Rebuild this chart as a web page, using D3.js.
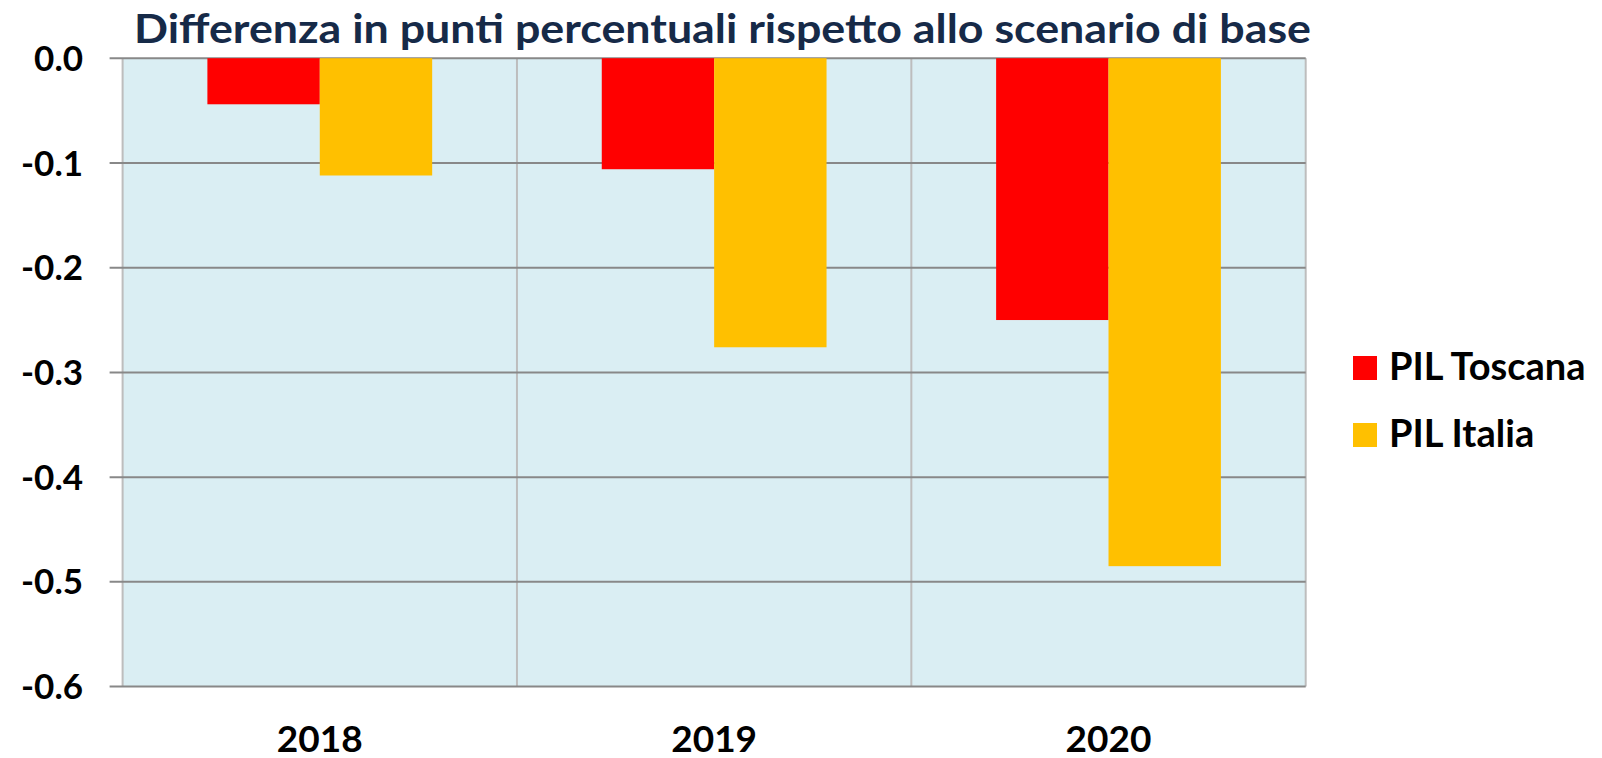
<!DOCTYPE html>
<html>
<head>
<meta charset="utf-8">
<script src="https://cdn.jsdelivr.net/npm/d3@7"></script>
<style>
  body { margin: 0; background: #fff; }
  text { font-family: Lato, 'Open Sans', sans-serif; font-weight: bold; }
</style>
</head>
<body>
<script>
// Data
const years = ['2018', '2019', '2020'];
const seriesNames = ['PIL Toscana', 'PIL Italia'];
const pilToscana = [-0.044, -0.106, -0.25];
const pilItalia = [-0.112, -0.276, -0.485];
const yTicks = [0, -0.1, -0.2, -0.3, -0.4, -0.5, -0.6];
const colors = ['#ff0000', '#ffc000'];
const title = 'Differenza in punti percentuali rispetto allo scenario di base';

// Size and plot area
const w = 1602;
const h = 758;
const plotLeft = 122.6;
const plotRight = 1305.7;
const plotTop = 58.2;
const plotBottom = 686.6;

const svg = d3
  .select('body')
  .append('svg')
  .attr('width', w)
  .attr('height', h);

// Scales
const x = d3.scaleBand().domain(years).range([plotLeft, plotRight]).padding(0);
const x1 = d3
  .scaleBand()
  .domain(seriesNames)
  .range([0, x.bandwidth()])
  .paddingInner(0)
  .paddingOuter(0.7545);
const y = d3.scaleLinear().domain([-0.6, 0]).range([plotBottom, plotTop]);

// Plot background
svg
  .append('rect')
  .attr('x', plotLeft)
  .attr('y', plotTop)
  .attr('width', plotRight - plotLeft)
  .attr('height', plotBottom - plotTop)
  .attr('fill', '#daeef3');

// Vertical gridlines at category boundaries
const vLines = years.map(d => x(d)).concat([plotRight]);
svg
  .append('g')
  .selectAll('line')
  .data(vLines)
  .enter()
  .append('line')
  .attr('x1', d => d)
  .attr('x2', d => d)
  .attr('y1', plotTop)
  .attr('y2', plotBottom)
  .attr('stroke', '#bdbdbd')
  .attr('stroke-width', 2);

// Horizontal gridlines with left ticks
svg
  .append('g')
  .selectAll('line')
  .data(yTicks)
  .enter()
  .append('line')
  .attr('x1', plotLeft - 13)
  .attr('x2', plotRight)
  .attr('y1', d => y(d))
  .attr('y2', d => y(d))
  .attr('stroke', '#888888')
  .attr('stroke-width', 2);

// Bars
const series = [pilToscana, pilItalia];
series.forEach((vals, si) => {
  svg
    .append('g')
    .selectAll('rect')
    .data(vals)
    .enter()
    .append('rect')
    .attr('x', (d, i) => x(years[i]) + x1(seriesNames[si]))
    .attr('y', y(0))
    .attr('width', x1.bandwidth())
    .attr('height', d => y(d) - y(0))
    .attr('fill', colors[si]);
});

// Y axis labels
svg
  .append('g')
  .selectAll('text')
  .data(yTicks)
  .enter()
  .append('text')
  .attr('x', 83)
  .attr('y', d => y(d))
  .attr('dy', '0.36em')
  .attr('text-anchor', 'end')
  .attr('font-size', 35)
  .attr('font-weight', 900)
  .attr('fill', '#000')
  .text(d => d3.format('.1f')(d).replace('−', '-'));

// X axis labels
svg
  .append('g')
  .selectAll('text')
  .data(years)
  .enter()
  .append('text')
  .attr('x', d => x(d) + x.bandwidth() / 2)
  .attr('y', 752)
  .attr('text-anchor', 'middle')
  .attr('font-size', 37)
  .attr('font-weight', 900)
  .attr('fill', '#000')
  .text(d => d);

// Title
svg
  .append('text')
  .attr('x', 134)
  .attr('y', 43)
  .attr('font-size', 40)
  .attr('font-weight', 900)
  .attr('fill', '#162a48')
  .attr('textLength', 1177)
  .attr('lengthAdjust', 'spacingAndGlyphs')
  .text(title);

// Legend
const legendY = [356, 423];
const legend = svg
  .append('g')
  .selectAll('g')
  .data(seriesNames)
  .enter()
  .append('g');
legend
  .append('rect')
  .attr('x', 1353)
  .attr('y', (d, i) => legendY[i])
  .attr('width', 24)
  .attr('height', 24)
  .attr('fill', (d, i) => colors[i]);
legend
  .append('text')
  .attr('x', 1389)
  .attr('y', (d, i) => legendY[i] + 24)
  .attr('font-size', 38)
  .attr('font-weight', 900)
  .attr('fill', '#000')
  .text(d => d);
</script>
</body>
</html>
